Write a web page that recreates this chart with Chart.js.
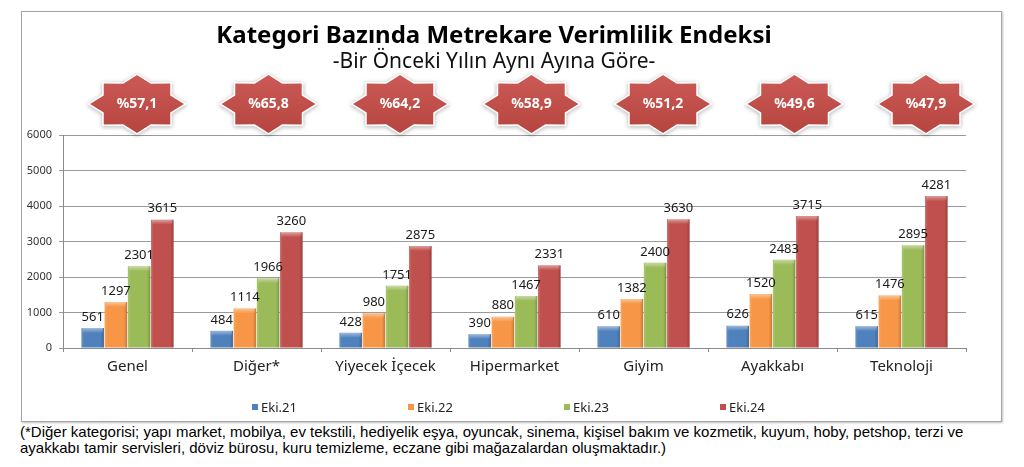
<!DOCTYPE html>
<html lang="tr">
<head>
<meta charset="utf-8">
<title>Kategori Bazında Metrekare Verimlilik Endeksi</title>
<script src="https://cdn.jsdelivr.net/npm/chart.js@4.4.1/dist/chart.umd.min.js"></script>
<style>
  body { margin: 0; background: #fff; font-family: "Noto Sans", sans-serif; }
  #frame {
    position: absolute; left: 21px; top: 11px; width: 979px; height: 409px;
    border: 1px solid #a6a6a6; box-shadow: 1px 1px 2px rgba(0,0,0,0.25);
  }
  #chartBox { position: absolute; left: 0; top: 0; width: 979px; height: 409px; }
  #legend { position: absolute; left: 230px; top: 387px; height: 16px; display: flex; }
  #legend .item { width: 156px; display: flex; align-items: center; font-size: 13px; color: #222; }
  #legend .sw { width: 6px; height: 6px; margin-right: 3px; }
  #note {
    position: absolute; left: 20px; top: 424px; width: 990px;
    font-family: "Liberation Sans Narrow", "Arial Narrow", "Liberation Sans", sans-serif;
    font-size: 15px; line-height: 16px; color: #000;
  }
</style>
</head>
<body>
<div id="frame">
  <div id="chartBox"><canvas id="chart"></canvas></div>
  <div id="legend"></div>
</div>
<div id="note">(*Diğer kategorisi; yapı market, mobilya, ev tekstili, hediyelik eşya, oyuncak, sinema, kişisel bakım ve kozmetik, kuyum, hoby, petshop, terzi ve<br>ayakkabı tamir servisleri, döviz bürosu, kuru temizleme, eczane gibi mağazalardan oluşmaktadır.)</div>

<script>
// data
const categories = ['Genel', 'Diğer*', 'Yiyecek İçecek', 'Hipermarket', 'Giyim', 'Ayakkabı', 'Teknoloji'];
const seriesNames = ['Eki.21', 'Eki.22', 'Eki.23', 'Eki.24'];
const eki21 = [561, 484, 428, 390, 610, 626, 615];
const eki22 = [1297, 1114, 980, 880, 1382, 1520, 1476];
const eki23 = [2301, 1966, 1751, 1467, 2400, 2483, 2895];
const eki24 = [3615, 3260, 2875, 2331, 3630, 3715, 4281];
const changeRates = ['%57,1', '%65,8', '%64,2', '%58,9', '%51,2', '%49,6', '%47,9'];
const yTickValues = [0, 1000, 2000, 3000, 4000, 5000, 6000];

const seriesColors = ['#4F81BD', '#F79646', '#9BBB59', '#C0504D'];

function buildDatasets(){
    const values = [eki21, eki22, eki23, eki24];
    return values.map((v, i) => ({
        label: seriesNames[i],
        data: v,
        backgroundColor: seriesColors[i],
        borderWidth: 0,
        categoryPercentage: 0.72,
        barPercentage: 0.97
    }));
}

// light top edge and side shading, like the excel bevel
const bevelPlugin = {
    id: 'bevel',
    afterDatasetsDraw(chart){
        const ctx = chart.ctx;
        ctx.save();
        chart.data.datasets.forEach((ds, di) => {
            chart.getDatasetMeta(di).data.forEach(bar => {
                const left = bar.x - bar.width / 2;
                const h = bar.base - bar.y;
                const g = ctx.createLinearGradient(left, 0, left + bar.width, 0);
                g.addColorStop(0, 'rgba(255,255,255,0.15)');
                g.addColorStop(0.12, 'rgba(255,255,255,0)');
                g.addColorStop(0.85, 'rgba(0,0,0,0)');
                g.addColorStop(1, 'rgba(0,0,0,0.2)');
                ctx.fillStyle = g;
                ctx.fillRect(left, bar.y, bar.width, h);
                const t = ctx.createLinearGradient(0, bar.y, 0, bar.y + 5);
                t.addColorStop(0, 'rgba(255,255,255,0.45)');
                t.addColorStop(1, 'rgba(255,255,255,0)');
                ctx.fillStyle = t;
                ctx.fillRect(left + 1, bar.y, bar.width - 2, Math.min(5, h));
            });
        });
        ctx.restore();
    }
};

const valueLabelPlugin = {
    id: 'valueLabels',
    afterDatasetsDraw(chart){
        const ctx = chart.ctx;
        ctx.save();
        ctx.font = '13px "Noto Sans"';
        ctx.fillStyle = '#1a1a1a';
        ctx.textAlign = 'center';
        ctx.textBaseline = 'middle';
        chart.data.datasets.forEach((ds, di) => {
            chart.getDatasetMeta(di).data.forEach((bar, i) => {
                ctx.fillText(String(ds.data[i]), bar.x, bar.y - 11);
            });
        });
        ctx.restore();
    }
};

function starPath(ctx, cx, cy){
    const outer = [47, 29], inner = [36, 22];
    ctx.beginPath();
    for (let k = 0; k < 16; k++) {
        const a = k * Math.PI / 8;
        const r = k % 2 === 0 ? outer : inner;
        const px = cx + r[0] * Math.cos(a);
        const py = cy - r[1] * Math.sin(a);
        if (k === 0) ctx.moveTo(px, py); else ctx.lineTo(px, py);
    }
    ctx.closePath();
}

const badgePlugin = {
    id: 'badges',
    afterDraw(chart){
        const ctx = chart.ctx;
        const xs = chart.scales.x;
        const cy = 92;
        changeRates.forEach((txt, i) => {
            const cx = xs.getPixelForValue(i) + 9.5 + 2.5 * i;
            ctx.save();
            starPath(ctx, cx, cy);
            ctx.shadowColor = 'rgba(0,0,0,0.35)';
            ctx.shadowBlur = 4;
            ctx.shadowOffsetY = 1;
            ctx.strokeStyle = '#fff';
            ctx.lineWidth = 3;
            ctx.stroke();
            ctx.shadowColor = 'transparent';
            const g = ctx.createLinearGradient(0, cy - 29, 0, cy + 29);
            g.addColorStop(0, '#CB5A56');
            g.addColorStop(1, '#B6443F');
            ctx.fillStyle = g;
            ctx.fill();
            ctx.fillStyle = '#fff';
            ctx.font = 'bold 14px "Noto Sans"';
            ctx.textAlign = 'center';
            ctx.textBaseline = 'middle';
            ctx.fillText(txt, cx, cy);
            ctx.restore();
        });
    }
};

function buildLegend(){
    const box = document.getElementById('legend');
    seriesNames.forEach((name, i) => {
        const item = document.createElement('div');
        item.className = 'item';
        const sw = document.createElement('span');
        sw.className = 'sw';
        sw.style.background = seriesColors[i];
        item.appendChild(sw);
        item.appendChild(document.createTextNode(name));
        box.appendChild(item);
    });
}

const config = {
    type: 'bar',
    data: { labels: categories, datasets: buildDatasets() },
    options: {
        responsive: true,
        maintainAspectRatio: false,
        animation: false,
        layout: { padding: { left: 0, right: 35, top: 0, bottom: 33 } },
        plugins: {
            legend: { display: false },
            tooltip: { enabled: false },
            title: {
                display: true,
                text: 'Kategori Bazında Metrekare Verimlilik Endeksi',
                color: '#000',
                font: { family: 'Noto Sans', size: 24, weight: 'bold', lineHeight: 1.0 },
                padding: { top: 12, bottom: 0 }
            },
            subtitle: {
                display: true,
                text: '-Bir Önceki Yılın Aynı Ayına Göre-',
                color: '#111',
                font: { family: 'Noto Sans', size: 21, lineHeight: 1.0 },
                padding: { top: 4, bottom: 62 }
            }
        },
        scales: {
            x: {
                grid: { display: true, drawOnChartArea: false, offset: true, tickLength: 4, color: '#8a8a8a' },
                border: { color: '#8a8a8a' },
                ticks: { color: '#222', font: { family: 'Noto Sans', size: 15 }, padding: 6, maxRotation: 0 },
                afterFit(scale){ scale.height = 40; }
            },
            y: {
                min: 0,
                max: 6000,
                afterBuildTicks(scale){ scale.ticks = yTickValues.map(v => ({ value: v })); },
                grid: { color: '#9a9a9a', tickLength: 4 },
                border: { color: '#8a8a8a' },
                ticks: {
                    color: '#333',
                    font: { family: 'Noto Sans', size: 11 },
                    padding: 7,
                    callback: value => String(value)
                },
                afterFit(scale){ scale.width = 41; }
            }
        }
    },
    plugins: [bevelPlugin, valueLabelPlugin, badgePlugin]
};

buildLegend();
new Chart(document.getElementById('chart'), config);
</script>
</body>
</html>
